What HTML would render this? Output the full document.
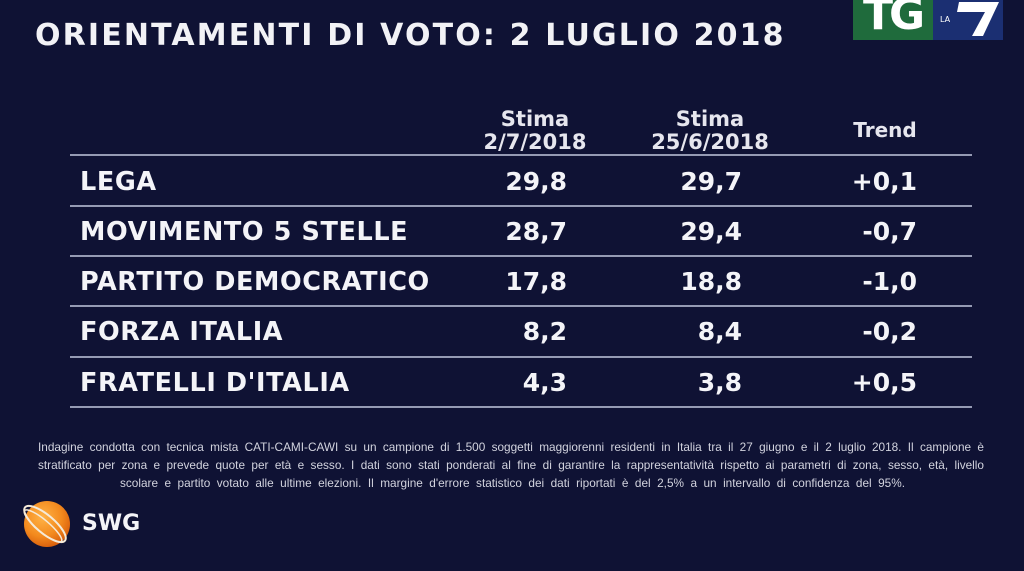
<!DOCTYPE html>
<html>
<head>
<meta charset="utf-8">
<style>
  html,body{margin:0;padding:0;}
  body{width:1024px;height:571px;background:#0f1234;position:relative;overflow:hidden;
       font-family:"DejaVu Sans","Liberation Sans",sans-serif;color:#f4f4f8;}
  .abs{position:absolute;}
  .title{left:35px;top:21px;font-size:30px;line-height:30px;font-weight:bold;letter-spacing:2.15px;white-space:nowrap;color:#f2f2f6;}
  .hdr{font-size:21px;line-height:23px;font-weight:bold;text-align:center;width:160px;white-space:nowrap;color:#e6e6ee;}
  .line{left:70px;width:902px;height:2px;background:#959ab3;}
  .row{left:0;width:1024px;height:50px;}
  .row div{position:absolute;top:0;line-height:50px;font-weight:bold;white-space:nowrap;}
  .name{left:80px;font-size:25.5px;letter-spacing:0.6px;}
  .num{font-size:25px;text-align:right;width:150px;}
  .c1{left:417px;} .c2{left:592px;} .c3{left:767px;}
  .foot{font-family:"Liberation Sans",sans-serif;font-size:11.8px;line-height:18px;color:#d2d3de;text-align:justify;text-align-last:justify;white-space:nowrap;}
  .swg{left:82px;top:510px;font-size:22px;font-weight:bold;line-height:28px;color:#f4f4f8;}
</style>
</head>
<body>
<div class="abs title">ORIENTAMENTI DI VOTO: 2 LUGLIO 2018</div>

<!-- TG LA7 logo -->
<svg class="abs" style="left:853px;top:0" width="152" height="41" viewBox="0 0 152 41">
  <rect x="0" y="0" width="80" height="40" fill="#1f6b3c"/>
  <rect x="80" y="0" width="70" height="40" fill="#1b2f72"/>
  <text x="10" y="29" font-family="DejaVu Sans, sans-serif" font-weight="bold" font-size="44" fill="#ffffff" letter-spacing="-4">TG</text>
  <text x="87" y="22" font-family="DejaVu Sans, sans-serif" font-size="8" fill="#ffffff">LA</text>
  <path d="M106 2 L146 2 L130 36 L119 36 L132 12 L104 12 Z" fill="#ffffff"/>
</svg>

<!-- headers -->
<div class="abs hdr" style="left:455px;top:108px;">Stima<br>2/7/2018</div>
<div class="abs hdr" style="left:630px;top:108px;">Stima<br>25/6/2018</div>
<div class="abs hdr" style="left:805px;top:119px;font-size:20px;">Trend</div>

<!-- lines -->
<div class="abs line" style="top:154px;"></div>
<div class="abs line" style="top:205px;"></div>
<div class="abs line" style="top:255px;"></div>
<div class="abs line" style="top:305px;"></div>
<div class="abs line" style="top:356px;"></div>
<div class="abs line" style="top:406px;"></div>

<!-- rows -->
<div class="abs row" style="top:157px;">
  <div class="name">LEGA</div>
  <div class="num c1">29,8</div><div class="num c2">29,7</div><div class="num c3">+0,1</div>
</div>
<div class="abs row" style="top:207px;">
  <div class="name">MOVIMENTO 5 STELLE</div>
  <div class="num c1">28,7</div><div class="num c2">29,4</div><div class="num c3">-0,7</div>
</div>
<div class="abs row" style="top:257px;">
  <div class="name">PARTITO DEMOCRATICO</div>
  <div class="num c1">17,8</div><div class="num c2">18,8</div><div class="num c3">-1,0</div>
</div>
<div class="abs row" style="top:307px;">
  <div class="name">FORZA ITALIA</div>
  <div class="num c1">8,2</div><div class="num c2">8,4</div><div class="num c3">-0,2</div>
</div>
<div class="abs row" style="top:358px;">
  <div class="name">FRATELLI D'ITALIA</div>
  <div class="num c1">4,3</div><div class="num c2">3,8</div><div class="num c3">+0,5</div>
</div>

<!-- footnote -->
<div class="abs foot" style="left:38px;top:438px;width:946px;">Indagine condotta con tecnica mista CATI-CAMI-CAWI su un campione di 1.500 soggetti maggiorenni residenti in Italia tra il 27 giugno e il 2 luglio 2018. Il campione è</div>
<div class="abs foot" style="left:38px;top:456px;width:946px;">stratificato per zona e prevede quote per età e sesso. I dati sono stati ponderati al fine di garantire la rappresentatività rispetto ai parametri di zona, sesso, età, livello</div>
<div class="abs foot" style="left:120px;top:474px;width:785px;">scolare e partito votato alle ultime elezioni. Il margine d'errore statistico dei dati riportati è del 2,5% a un intervallo di confidenza del 95%.</div>

<!-- SWG logo -->
<svg class="abs" style="left:16px;top:494px" width="62" height="60" viewBox="0 0 62 60">
  <defs>
    <radialGradient id="g" cx="0.4" cy="0.35" r="0.7">
      <stop offset="0" stop-color="#ffb347"/>
      <stop offset="0.6" stop-color="#f38a1e"/>
      <stop offset="1" stop-color="#d65a0a"/>
    </radialGradient>
  </defs>
  <circle cx="31" cy="30" r="23" fill="url(#g)"/>
  <g fill="none" stroke="#f5ead8" stroke-width="2">
    <ellipse cx="29" cy="30" rx="26" ry="9" transform="rotate(40 29 30)"/>
    <ellipse cx="27" cy="32" rx="24" ry="6" transform="rotate(40 27 32)" stroke-width="1.5"/>
  </g>
</svg>
<div class="abs swg">SWG</div>
</body>
</html>
